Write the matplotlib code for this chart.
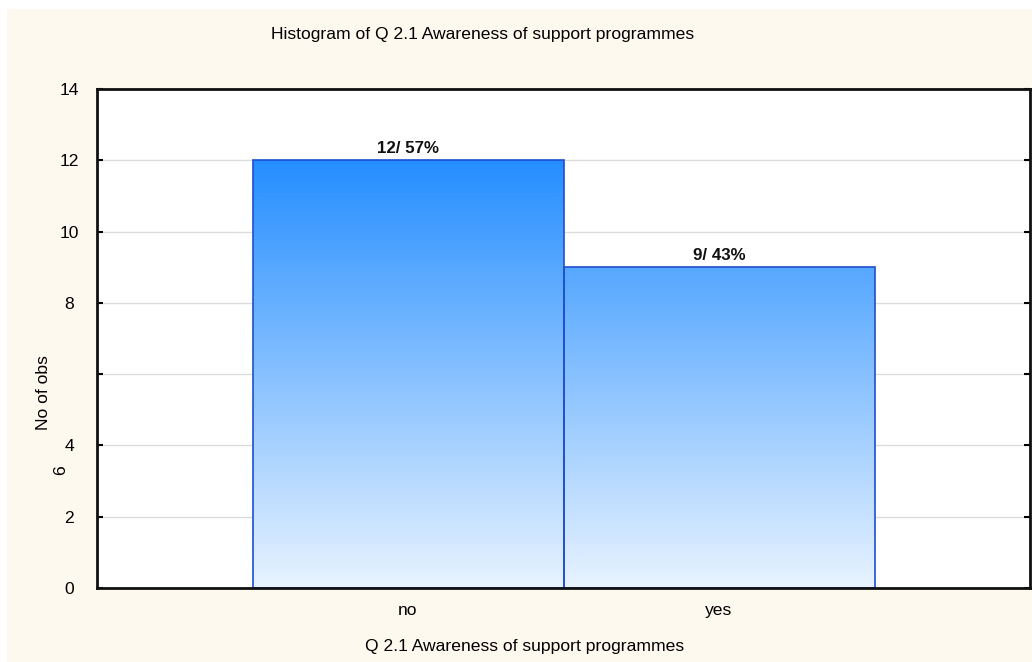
import matplotlib
matplotlib.use("Agg")
import matplotlib.pyplot as plt
import numpy as np
from matplotlib.patches import Rectangle

categories = ["no", "yes"]
counts = [12, 9]
y_ticks = [0, 2, 4, 6, 8, 10, 12, 14]
title = "Histogram of Q 2.1 Awareness of support programmes"
xlabel = "Q 2.1 Awareness of support programmes"
ylabel = "No of obs"

plt.rcParams['font.family'] = ['Liberation Sans', 'DejaVu Sans']
FS = 12.6

fig = plt.figure(figsize=(10.32, 6.62), dpi=100)
fig.patch.set_facecolor("white")
# cream panel
fig.patches.append(Rectangle((7 / 1032, 0), 1 - 7 / 1032, 1 - 9 / 662,
                             transform=fig.transFigure, facecolor="#FEF9EE",
                             edgecolor="none", zorder=-10))

ax = fig.add_axes([97 / 1032, (662 - 588) / 662, (1030 - 97) / 1032, (588 - 89) / 662])
ax.set_facecolor("white")
ax.set_xlim(-1, 2)
ax.set_ylim(0, 14)

# gradient image (value-dependent color)
top_c = np.array([37, 142, 255]) / 255
bot_c = np.array([232, 243, 255]) / 255
yy = np.linspace(0, 14, 400)
frac = np.clip(yy / 12.0, 0, None)
cols = bot_c[None, :] + (top_c - bot_c)[None, :] * frac[:, None]
cols = np.clip(cols, 0, 1)
img = cols[:, None, :]

x = np.arange(len(categories))
total = sum(counts)
for xi, c in zip(x, counts):
    rect = Rectangle((xi - 0.5, 0), 1.0, c, facecolor="none",
                     edgecolor="#1F4FD0", linewidth=1.2, zorder=3)
    ax.add_patch(rect)
    im = ax.imshow(img, extent=(-1, 2, 0, 14), origin="lower", aspect="auto",
                   zorder=2, interpolation="bilinear")
    im.set_clip_path(rect)
    pct = round(100 * c / total)
    ax.text(xi, c + 0.12, f"{c}/ {pct}%", ha="center", va="bottom",
            fontsize=12.2, fontweight="bold", color="#111111", zorder=4)

ax.set_xlim(-1, 2)
ax.set_ylim(0, 14)

for v in y_ticks[1:-1]:
    ax.axhline(v, color="#DCDCDC", linewidth=1, zorder=1)

ax.set_yticks(y_ticks)
ax.set_yticklabels(["" if v == 6 else str(v) for v in y_ticks])
ax.set_xticks(x)
ax.set_xticklabels(categories)
ax.tick_params(axis="y", direction="in", length=4, width=1.5, labelsize=FS,
               right=True, pad=20)
ax.tick_params(axis="x", direction="in", length=4, width=1.5, labelsize=FS,
               pad=10.5)
for lab in ax.get_yticklabels():
    lab.set_horizontalalignment("center")
for s in ax.spines.values():
    s.set_linewidth(2)
    s.set_color("#111111")
    s.set_zorder(5)

fig.text(483 / 1032, 1 - 34 / 662, title, ha="center", va="center", fontsize=FS)
fig.text(525 / 1032, 1 - 647 / 662, xlabel, ha="center", va="center", fontsize=FS)
fig.text(44 / 1032, 1 - 393 / 662, ylabel, ha="center", va="center",
         fontsize=FS, rotation=90)
fig.text(61 / 1032, 1 - 470 / 662, "6", ha="center", va="center",
         fontsize=FS, rotation=90)

fig.savefig("out.png", dpi=100)
